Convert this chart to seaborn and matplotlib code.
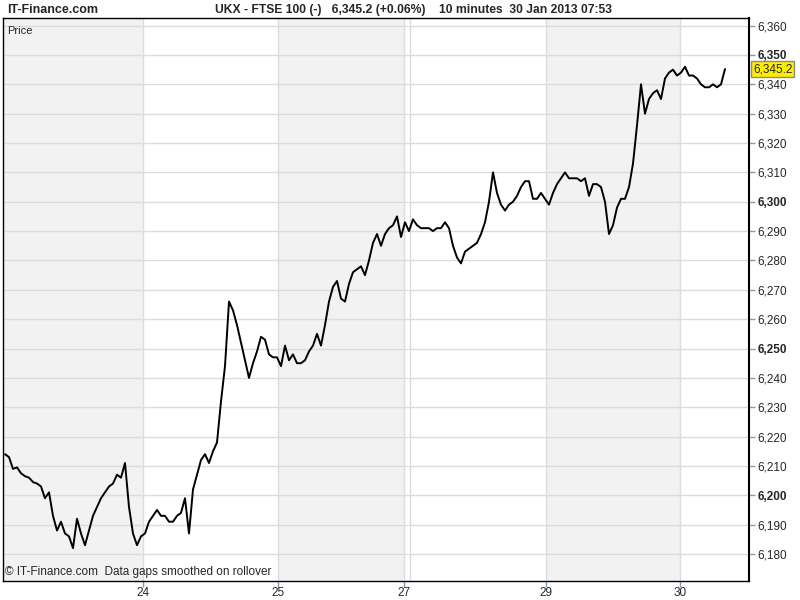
import numpy as np
import pandas as pd
import matplotlib.pyplot as plt
import seaborn as sns

# FTSE 100, 10 minute bars (one value every ~4 px)
prices = [
    6214, 6213, 6209, 6209.5, 6207.5, 6206.5, 6206, 6204.5, 6204, 6203,
    6199, 6201, 6193, 6188, 6191, 6187, 6186, 6182, 6192, 6187,
    6183, 6188, 6193, 6196, 6199, 6201, 6203, 6204, 6207, 6206,
    6211, 6196, 6187, 6183, 6186, 6187, 6191, 6193, 6195, 6193,
    6193, 6191, 6191, 6193, 6194, 6199, 6187, 6202, 6207, 6212,
    6214, 6211, 6215, 6218, 6232, 6244, 6266, 6263, 6258, 6252,
    6246, 6240, 6245, 6249, 6254, 6253, 6248, 6247, 6247, 6244,
    6251, 6246, 6248, 6245, 6245, 6246, 6249, 6251, 6255, 6251,
    6258, 6266, 6271, 6273, 6267, 6266, 6272, 6276, 6277, 6278,
    6275, 6280, 6286, 6289, 6285, 6289, 6291, 6292, 6295, 6288,
    6293, 6290, 6294, 6292, 6291, 6291, 6291, 6290, 6291, 6291,
    6293, 6291, 6285, 6281, 6279, 6283, 6284, 6285, 6286, 6289,
    6293, 6300, 6310, 6303, 6299, 6297, 6299, 6300, 6302, 6305,
    6307, 6307, 6301, 6301, 6303, 6301, 6299, 6303, 6306, 6308,
    6310, 6308, 6308, 6308, 6307, 6308, 6302, 6306, 6306, 6305,
    6300, 6289, 6292, 6298, 6301, 6301, 6305, 6313, 6326, 6340,
    6330, 6335, 6337, 6338, 6335, 6342, 6344, 6345, 6343, 6344,
    6346, 6343, 6343, 6342, 6340, 6339, 6339, 6340, 6339, 6340,
    6345.2,
]
day_labels = ["24", "25", "27", "29", "30"]
last_price = "6,345.2"

df = pd.DataFrame({"bar": np.arange(len(prices)), "price": prices})

sns.set_style("white")
plt.rcParams["font.family"] = ["Liberation Sans", "DejaVu Sans"]

fig = plt.figure(figsize=(8, 6), dpi=100)
ax = fig.add_axes([3 / 800, 19 / 600, 746 / 800, 563 / 600])

# day bands / boundaries (in bar units)
day_pos = [34.5, 68.25, 99.75, 135.25, 168.75]
xmin, xmax = -0.5, 186
ax.axvspan(xmin, day_pos[0], color="#f2f2f2", lw=0, zorder=0)
ax.axvspan(day_pos[1], day_pos[2], color="#f2f2f2", lw=0, zorder=0)
ax.axvspan(day_pos[3], day_pos[4], color="#f2f2f2", lw=0, zorder=0)
for xv in day_pos + [101.25]:
    ax.axvline(xv, color="#dcdcdc", lw=1, zorder=1)

yt = np.arange(6180, 6361, 10)
for yv in yt:
    ax.axhline(yv, color="#dcdcdc", lw=1, zorder=1)

sns.lineplot(data=df, x="bar", y="price", ax=ax, color="black", lw=1.4, zorder=3)

ax.set_xlim(xmin, xmax)
ax.set_ylim(6170.8, 6362.6)

ax.yaxis.tick_right()
ax.set_yticks(yt)
ax.set_yticklabels([f"{v:,}" for v in yt], fontsize=8.5)
for lab, v in zip(ax.get_yticklabels(), yt):
    if v % 50 == 0:
        lab.set_fontweight("bold")
ax.tick_params(axis="y", right=True, length=4, width=1, color="#7f9db9", pad=2)

ax.set_xticks(day_pos)
ax.set_xticklabels(day_labels, fontsize=8.5)
ax.tick_params(axis="x", bottom=True, length=4, width=1, color="#7f9db9", pad=0)
ax.set_xlabel("")
ax.set_ylabel("")

for sp in ax.spines.values():
    sp.set_color("black")
    sp.set_linewidth(1)
ax.spines["right"].set_linewidth(1.5)

ax.text(0.005, 0.985, "Price", transform=ax.transAxes, fontsize=8,
        ha="left", va="top")
ax.text(0.003, 0.005, "\u00a9 IT-Finance.com  Data gaps smoothed on rollover",
        transform=ax.transAxes, fontsize=8.5, ha="left", va="bottom")

ax.annotate(last_price, xy=(1, prices[-1]), xycoords=("axes fraction", "data"),
            xytext=(3, 0), textcoords="offset points", ha="left", va="center",
            fontsize=8.5, annotation_clip=False,
            bbox=dict(boxstyle="square,pad=0.15", fc="#ffee00", ec="#8a8a8a", lw=1))

fig.text(7 / 800, 1 - 10 / 600, "IT-Finance.com", fontsize=9, fontweight="bold",
         ha="left", va="center")
fig.text(414 / 800, 1 - 10 / 600,
         "UKX - FTSE 100 (-)   6,345.2 (+0.06%)    10 minutes  30 Jan 2013 07:53",
         fontsize=8.7, fontweight="bold", ha="center", va="center")

fig.savefig("out.png", dpi=100)
